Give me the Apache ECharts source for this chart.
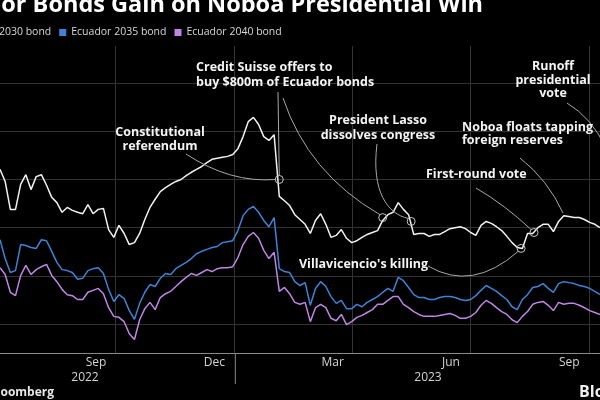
<!DOCTYPE html>
<html>
<head>
<meta charset="UTF-8">
<script src="https://cdn.jsdelivr.net/npm/echarts@6/dist/echarts.min.js"></script>
<style>
html, body { margin:0; padding:0; background:#000; }
#chart { width:600px; height:400px; }
</style>
</head>
<body><div id="chart"></div>
<script>
// prices, one point every 4 days from startDate
const startDate = '2022-07-03';
const stepDays = 4;

const bond2030 = [52.1,49.6,43.8,43.8,49.0,51.0,47.9,50.6,51.0,48.8, 46.3,45.2,43.2,44.2,43.6,43.2,42.9,44.8,42.9,43.8,
  44.0,39.6,38.0,40.5,38.8,36.5,36.9,38.8,41.7,44.2, 45.9,47.5,48.3,49.0,49.6,50.0,50.8,51.5,52.1,52.7,
  53.5,54.2,54.4,54.6,54.8,55.2,56.4,58.9,62.0,62.9, 61.4,58.9,58.1,59.3,46.5,45.6,44.6,42.7,41.7,40.7,
  38.8,41.5,42.9,40.7,38.0,38.4,39.6,37.8,36.9,37.3, 38.0,38.6,39.0,39.4,41.5,42.7,43.2,45.2,43.8,42.7,
  38.6,38.8,38.8,38.2,38.6,38.6,39.2,39.8,40.0,40.2, 39.8,39.0,38.4,40.5,41.3,40.9,40.2,39.4,38.2,36.9,
  35.9,35.7,38.8,38.8,40.0,40.7,40.7,39.2,41.3,42.5, 42.3,42.1,42.1,41.7,41.1,40.7,40.0];

const bond2035 = [37.5,33.6,30.7,31.1,36.5,36.3,35.9,35.7,37.5,37.3, 35.1,32.8,31.3,31.1,30.7,29.3,29.5,31.1,31.5,31.7,
  30.5,27.2,24.7,26.1,25.3,22.8,21.0,24.3,26.6,28.2, 27.8,29.5,30.5,30.3,31.5,32.2,32.8,33.6,34.6,35.1,
  35.5,35.9,36.1,36.9,37.1,37.3,39.4,42.5,43.8,44.4, 43.2,41.5,40.2,42.1,31.5,30.9,30.7,28.8,28.0,28.6,
  23.9,27.4,28.8,27.8,25.7,24.3,24.9,23.2,23.2,24.1, 23.6,24.5,25.1,25.7,26.6,27.4,26.8,29.7,29.0,27.6,
  26.1,25.5,25.5,25.1,25.1,25.5,25.7,25.7,25.5,25.1, 24.9,25.1,25.9,27.0,28.0,27.4,26.8,25.9,25.1,23.6,
  23.0,25.1,26.1,27.6,27.8,28.4,27.4,26.6,28.4,28.8, 28.6,28.4,28.0,27.8,27.4,26.8,26.1];

const bond2040 = [31.7,30.3,26.6,25.9,30.1,32.2,30.3,31.3,31.9,32.4, 30.1,28.8,27.2,26.1,25.9,25.1,25.1,26.6,27.0,27.4,
  26.3,23.4,21.6,21.4,20.5,18.0,16.8,20.9,23.2,24.5, 23.0,25.5,26.3,26.8,27.8,28.8,29.7,30.5,30.1,30.7,
  31.3,30.9,31.5,31.7,31.7,31.9,33.8,36.5,38.2,39.0, 37.8,35.3,33.6,34.9,26.8,27.6,26.3,24.5,24.1,24.5,
  20.5,23.4,24.1,23.4,21.2,20.7,22.0,19.9,20.5,21.4, 21.8,22.4,23.0,24.1,24.1,24.9,25.7,25.7,24.1,23.4,
  22.6,22.0,21.6,21.6,21.6,21.8,22.0,22.2,21.8,21.2, 21.2,21.6,22.4,23.9,24.9,24.3,23.4,22.6,22.0,20.9,
  20.3,21.6,22.6,24.1,24.5,24.7,23.9,22.8,24.5,24.1, 24.3,24.3,23.9,23.4,22.8,22.4,22.0];

const seriesNames = ['Ecuador 2030 bond', 'Ecuador 2035 bond', 'Ecuador 2040 bond'];
const seriesColors = ['#f2f2f2', '#3d84d6', '#bf86e6'];

const months = ['Jul','Aug','Sep','Oct','Nov','Dec','Jan','Feb','Mar','Apr','May','Jun','Jul','Aug','Sep','Oct'];
const gridValues = [20, 30, 40, 50, 60, 70];

// circled points on the 2030 line
const eventMarks = {
  referendum: ['2023-02-04', 50.0],
  creditSuisse: ['2023-04-25', 42.1],
  lasso: ['2023-05-17', 41.3],
  villavicencio: ['2023-08-10', 35.7],
  firstRound: ['2023-08-20', 39.0]
};

const day = 864e5;
const t0 = Date.parse(startDate);
const toPoints = arr => arr.map((v, i) => [t0 + i * stepDays * day, v]);

const chart = echarts.init(document.getElementById('chart'));

const lineSeries = (name, data, color, extra) => Object.assign({
  name, type: 'line', data: toPoints(data), xAxisIndex: 0, yAxisIndex: 0,
  showSymbol: false, symbol: 'none', color,
  lineStyle: { width: 1.5, color }
}, extra || {});

chart.setOption({
  backgroundColor: '#000',
  animation: false,
  legend: {
    left: -61, top: 22, icon: 'rect', itemWidth: 7, itemHeight: 7, itemGap: 8,
    textStyle: { color: '#d8d8d8', fontSize: 10.5, fontFamily: 'Open Sans' },
    data: seriesNames
  },
  // the plot runs past both edges of the picture
  grid: { left: -2.6, right: -28.4, top: 46, bottom: 47, outerBoundsMode: 'none' },
  xAxis: [
    { type: 'time', min: Date.parse('2022-07-01'), max: Date.parse('2023-11-01'), show: false },
    {
      type: 'category', data: months, boundaryGap: true, position: 'bottom',
      axisLine: { lineStyle: { color: '#8a8a8a' } },
      axisTick: { length: 4, interval: 0, lineStyle: { color: '#8a8a8a' } },
      axisLabel: { interval: i => i % 3 === 2, color: '#d4d4d4', fontSize: 12, fontFamily: 'Open Sans', margin: 4 },
      splitLine: { show: true, interval: i => i % 3 === 0 && i > 0, lineStyle: { color: '#333' } }
    }
  ],
  yAxis: { type: 'value', min: 14, max: 77.7, show: false },
  series: [
    lineSeries(seriesNames[0], bond2030, seriesColors[0], {
      z: 4,
      markLine: {
        silent: true, symbol: 'none', z: 1, animation: false,
        label: { show: false },
        lineStyle: { color: '#333', type: 'solid', width: 1 },
        emphasis: { disabled: true },
        data: gridValues.map(v => ({ yAxis: v }))
      }
    }),
    lineSeries(seriesNames[1], bond2035, seriesColors[1], { z: 3 }),
    lineSeries(seriesNames[2], bond2040, seriesColors[2], { z: 2 })
  ]
});

// annotations
const px = (d, v) => chart.convertToPixel({ xAxisIndex: 0, yAxisIndex: 0 }, [Date.parse(d), v]);
const font = 'bold 12.5px "Open Sans"';
const leaderStyle = { stroke: '#a8a8a8', fill: null, lineWidth: 1 };

function note(text, x, y, align, lh) {
  return { type: 'text', x, y, z: 10, silent: true,
    style: { text, fill: '#f4f4f4', font, align: align || 'left', verticalAlign: 'top', lineHeight: lh || 14 } };
}
function curve(x1, y1, cx, cy, x2, y2) {
  return { type: 'bezierCurve', z: 9, silent: true,
    shape: { x1, y1, cpx1: cx, cpy1: cy, x2, y2 }, style: leaderStyle };
}
function curve3(x1, y1, cx1, cy1, cx2, cy2, x2, y2) {
  return { type: 'bezierCurve', z: 9, silent: true,
    shape: { x1, y1, cpx1: cx1, cpy1: cy1, cpx2: cx2, cpy2: cy2, x2, y2 }, style: leaderStyle };
}

const graphic = [];
const c = {};
Object.keys(eventMarks).forEach(k => {
  const p = px(eventMarks[k][0], eventMarks[k][1]);
  c[k] = p;
  graphic.push({ type: 'circle', z: 10, silent: true, shape: { cx: p[0], cy: p[1], r: 4 },
    style: { fill: null, stroke: '#c8c8c8', lineWidth: 1 } });
});

graphic.push(
  note('Constitutional\nreferendum', 160, 125, 'center'),
  curve(186, 154, 230, 183, c.referendum[0] - 4, c.referendum[1]),
  note('Credit Suisse offers to\nbuy $800m of Ecuador bonds', 196, 60, 'left', 15),
  { type: 'line', z: 9, silent: true, shape: { x1: 278, y1: 92, x2: c.referendum[0], y2: c.referendum[1] - 4 }, style: leaderStyle },
  curve(283, 98, 308, 173, c.creditSuisse[0] - 3, c.creditSuisse[1] - 3),
  note('President Lasso\ndissolves congress', 378, 113, 'center', 15),
  curve3(377, 144, 371, 192, 388, 214, c.lasso[0] - 3, c.lasso[1] - 3),
  note('Noboa floats tapping\nforeign reserves', 462, 121, 'left', 13),
  curve(520, 158, 548, 180, 563, 213),
  note('First-round vote', 426, 167),
  curve(476, 188, 505, 205, c.firstRound[0] - 3, c.firstRound[1] - 3),
  note('Runoff\npresidential\nvote', 553, 60, 'center', 13.5),
  curve(567, 103, 592, 118, 606, 148),
  note("Villavicencio's killing", 299, 257),
  curve(428, 266, 472, 292, c.villavicencio[0] - 3, c.villavicencio[1] + 3)
);

// title, year labels, source
const janX = px('2023-01-01', 20)[0];
graphic.push(
  { type: 'text', x: 483, y: 5, style: { text: 'Ecuador Bonds Gain on Noboa Presidential Win', fill: '#fff',
    font: 'bold 23.5px "Open Sans"', align: 'right', verticalAlign: 'middle' } },
  { type: 'line', shape: { x1: janX, y1: 354, x2: janX, y2: 384 }, style: { stroke: '#8a8a8a', lineWidth: 1 } },
  { type: 'text', x: 85, y: 378, style: { text: '2022', fill: '#d4d4d4', font: '12px "Open Sans"', align: 'center', verticalAlign: 'middle' } },
  { type: 'text', x: 428, y: 378, style: { text: '2023', fill: '#d4d4d4', font: '12px "Open Sans"', align: 'center', verticalAlign: 'middle' } },
  { type: 'text', x: 54, y: 393, style: { text: 'Source: Bloomberg', fill: '#e8e8e8', font: 'bold 12px "Open Sans"', align: 'right', verticalAlign: 'middle' } },
  { type: 'text', x: 579, y: 392, style: { text: 'Bloomberg', fill: '#f0f0f0', font: 'bold 16px "Open Sans"', align: 'left', verticalAlign: 'middle' } }
);

chart.setOption({ graphic });
</script>
</body></html>
